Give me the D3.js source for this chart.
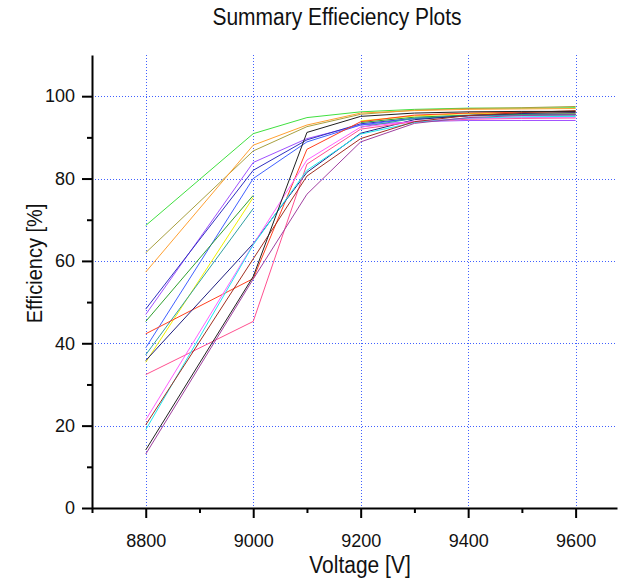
<!DOCTYPE html>
<html>
<head>
<meta charset="utf-8">
<script src="https://cdn.jsdelivr.net/npm/d3@7"></script>
<style>
  html, body { margin: 0; padding: 0; background: #fff; }
  svg { display: block; font-family: "Liberation Sans", Arial, sans-serif; }
</style>
</head>
<body>
<div id="chart"></div>
<script>
// ---- data ----
const voltages = [8800, 9000, 9100, 9200, 9300, 9400, 9500, 9600];
const xTickLabels = [8800, 9000, 9200, 9400, 9600];
const xMinorTicks = [8700, 8900, 9100, 9300, 9500];
const yTickLabels = [0, 20, 40, 60, 80, 100];
const yMinorTicks = [10, 30, 50, 70, 90];

const seriesColors = ["#40e040","#a8a040","#ffa030","#a050ff","#3030c0","#4060ff","#30a030","#f0f000","#30a0a0","#ff4020","#202080","#ff5090","#ff60ff","#20e8f0","#a03020","#202020","#a040a0"];
const s1  = [68.6, 90.9, 94.8, 96.2, 96.8, 97.1, 97.1, 97.2];
const s2  = [62.0, 86.7, 92.6, 95.6, 96.6, 97.0, 97.2, 97.5];
const s3  = [57.3, 88.1, 93.0, 95.9, 96.5, 96.8, 96.9, 97.0];
const s4  = [47.0, 83.9, 89.7, 93.0, 93.8, 94.1, 94.1, 94.1];
const s5  = [48.3, 82.0, 89.4, 93.3, 94.6, 95.2, 95.5, 95.6];
const s6  = [38.9, 80.0, 88.9, 93.0, 94.6, 95.3, 95.5, 95.5];
const s7  = [45.3, 75.9, null, 93.6, 94.9, 95.4, 95.6, 95.7];
const s8  = [35.4, 75.4, null, 94.0, 95.2, 95.8, 95.9, 96.0];
const s9  = [37.2, 72.7, null, 92.5, 94.6, 95.3, 95.4, 95.4];
const s10 = [42.3, 55.7, 87.1, 93.8, 95.4, 95.9, 96.1, 96.2];
const s11 = [35.8, 64.2, 81.5, 91.0, 94.3, 95.3, 95.8, 96.0];
const s12 = [32.4, 45.3, 83.5, 92.0, 93.8, 94.4, 94.6, 94.7];
const s13 = [21.4, 64.0, 84.5, 92.5, 93.9, 94.6, 94.8, 94.9];
const s14 = [19.0, 63.9, 82.0, 90.8, 93.6, 94.7, 95.0, 95.1];
const s15 = [20.2, 60.5, 80.6, 89.7, 93.8, 95.3, 96.0, 96.5];
const s16 = [14.1, 56.2, 91.2, 95.1, 95.9, 96.2, 96.3, 96.3];
const s17 = [13.1, 55.6, 76.2, 88.9, 93.4, 94.8, 95.3, 95.5];
const seriesValues = [s1,s2,s3,s4,s5,s6,s7,s8,s9,s10,s11,s12,s13,s14,s15,s16,s17];

const titleText = "Summary Effieciency Plots";
const xLabel = "Voltage [V]";
const yLabel = "Efficiency [%]";

// ---- layout ----
const W = 618, H = 583;
const pLeft = 92, pRight = 617, pTop = 55, pBottom = 508;

const svg = d3.select("#chart").append("svg").attr("width", W).attr("height", H);

const x = d3.scaleLinear().domain([8700, 9677]).range([pLeft, pRight]);
const y = d3.scaleLinear().domain([0, 110]).range([pBottom, pTop]);

// grid
const grid = svg.append("g").attr("stroke", "#4060ff").attr("stroke-width", 1).attr("stroke-dasharray", "1,2");
grid.selectAll("line.v").data(xTickLabels).join("line").attr("class", "v")
  .attr("x1", d => Math.round(x(d)) + 0.5).attr("x2", d => Math.round(x(d)) + 0.5)
  .attr("y1", pTop).attr("y2", pBottom);
grid.selectAll("line.h").data(yTickLabels.filter(d => d > 0)).join("line").attr("class", "h")
  .attr("y1", d => Math.round(y(d)) + 0.5).attr("y2", d => Math.round(y(d)) + 0.5)
  .attr("x1", pLeft).attr("x2", pRight);

// series lines
const line = d3.line()
  .defined(d => d[1] != null)
  .x(d => x(d[0])).y(d => y(d[1]));
svg.append("g").selectAll("path").data(seriesValues).join("path")
  .attr("fill", "none")
  .attr("stroke", (d, i) => seriesColors[i])
  .attr("stroke-width", 1)
  .attr("d", vals => line(vals.map((v, i) => [voltages[i], v])));

// axes
const fmt = d3.format("d");
svg.append("g").attr("transform", `translate(0,${pBottom})`)
  .call(d3.axisBottom(x).tickValues(xTickLabels).tickFormat(fmt).tickSize(10).tickSizeOuter(0).tickPadding(16));
const xMinor = svg.append("g").attr("transform", `translate(0,${pBottom})`)
  .call(d3.axisBottom(x).tickValues(xMinorTicks).tickSize(5).tickSizeOuter(0).tickFormat(""));
xMinor.select(".domain").remove();

svg.append("g").attr("transform", `translate(${pLeft},0)`)
  .call(d3.axisLeft(y).tickValues(yTickLabels).tickFormat(fmt).tickSize(10).tickSizeOuter(0).tickPadding(7));
const yMinor = svg.append("g").attr("transform", `translate(${pLeft},0)`)
  .call(d3.axisLeft(y).tickValues(yMinorTicks).tickSize(5).tickSizeOuter(0).tickFormat(""));
yMinor.select(".domain").remove();

svg.selectAll(".domain, .tick line").attr("stroke", "#000").attr("stroke-width", 2);
svg.selectAll(".tick text").attr("font-size", 18).attr("fill", "#111")
  .attr("font-family", "'Liberation Sans', Arial, sans-serif");

// titles
svg.append("text").attr("transform", "translate(337,25) scale(1,1.1)").attr("text-anchor", "middle")
  .attr("font-size", 21).attr("fill", "#111").text(titleText);
svg.append("text").attr("transform", "translate(360,573) scale(1,1.1)").attr("text-anchor", "middle")
  .attr("font-size", 21).attr("fill", "#111").text(xLabel);
svg.append("text").attr("transform", `translate(42,${(205+322)/2}) rotate(-90) scale(1,1.1)`)
  .attr("text-anchor", "middle").attr("font-size", 20).attr("fill", "#111").text(yLabel);
</script>
</body>
</html>
